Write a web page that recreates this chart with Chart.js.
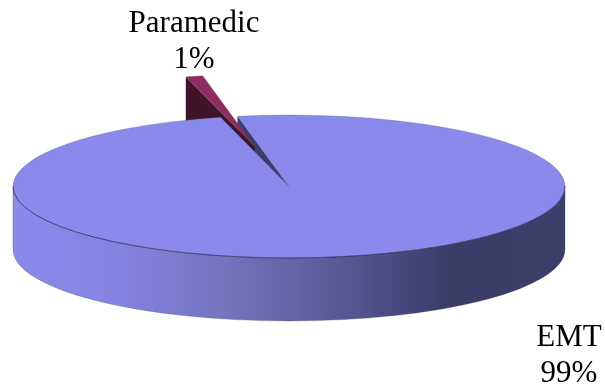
<!DOCTYPE html>
<html>
<head>
<meta charset="utf-8">
<title>Certification level</title>
<script src="https://cdn.jsdelivr.net/npm/chart.js@4/dist/chart.umd.js"></script>
<style>
  html, body { margin: 0; padding: 0; background: #ffffff; }
  canvas { display: block; }
</style>
</head>
<body>
<canvas id="pie" width="605" height="392"></canvas>
<script>
const categories = ['EMT', 'Paramedic'];
const shares = [99, 1];
const sliceColors = ['#8A8AEC', '#8E2C64'];
const sideColors = ['#3C3C6E', '#3F1429'];
const pullOut = [0, 160];

// Tilted-disc look: vertical squash of the circle and height of the disc's rim.
const tilt = 0.259;
const rimDepth = 63;
const labelFont = '31px "Liberation Serif", serif';
const labelLineGap = 36;
const labelBlocks = [
  { x: 569, y: 346 },
  { x: 194, y: 32 }
];

const discPlugin = {
  id: 'disc',
  beforeDatasetDraw(chart, args) {
    const ctx = chart.ctx;
    const arcs = args.meta.data;
    const emt = arcs[0];
    const medic = arcs[1];
    const cx = emt.x, cy = emt.y, r = emt.outerRadius, ry = r * tilt;

    // Outer rim of the large slice: shaded from the lit left side to the dark right side.
    const shade = ctx.createLinearGradient(cx - r, 0, cx + r, 0);
    shade.addColorStop(0, '#8A8AEC');
    shade.addColorStop(0.2, '#8383E0');
    shade.addColorStop(0.4, '#7272BC');
    shade.addColorStop(0.55, '#5F5F9E');
    shade.addColorStop(0.72, '#45457A');
    shade.addColorStop(0.8, '#3B3B68');
    shade.addColorStop(1, '#3D3D68');
    ctx.save();
    ctx.beginPath();
    ctx.ellipse(cx, cy, r, ry, 0, 0, Math.PI, false);
    ctx.lineTo(cx - r, cy + rimDepth);
    ctx.ellipse(cx, cy + rimDepth, r, ry, 0, Math.PI, 0, true);
    ctx.closePath();
    ctx.fillStyle = shade;
    ctx.fill();
    ctx.strokeStyle = 'rgba(70,70,90,0.45)';
    ctx.lineWidth = 0.7;
    ctx.stroke();

    // Cut face of the large slice, seen through the gap.
    const sx = cx + Math.cos(emt.startAngle) * r;
    const sy = cy + Math.sin(emt.startAngle) * ry;
    ctx.beginPath();
    ctx.moveTo(cx, cy);
    ctx.lineTo(sx, sy);
    ctx.lineTo(sx, sy + rimDepth);
    ctx.lineTo(cx, cy + rimDepth);
    ctx.closePath();
    ctx.fillStyle = sideColors[0];
    ctx.fill();

    // The pulled-out slice: cut face first, then its top surface.
    const mid = (medic.startAngle + medic.endAngle) / 2;
    const dx = Math.cos(mid) * pullOut[1];
    const dy = Math.sin(mid) * pullOut[1] * tilt;
    const tipX = cx + dx, tipY = cy + dy;
    const ox = tipX + Math.cos(medic.startAngle) * r;
    const oy = tipY + Math.sin(medic.startAngle) * ry;
    ctx.beginPath();
    ctx.moveTo(tipX, tipY);
    ctx.lineTo(ox, oy);
    ctx.lineTo(ox, oy + rimDepth);
    ctx.lineTo(tipX, tipY + rimDepth);
    ctx.closePath();
    ctx.fillStyle = sideColors[1];
    ctx.fill();

    ctx.save();
    ctx.translate(tipX, tipY);
    ctx.scale(1, tilt);
    ctx.translate(-cx, -cy);
    medic.draw(ctx);
    ctx.restore();

    // Top surface of the large slice goes last so it covers the faces behind it.
    ctx.save();
    ctx.translate(cx, cy);
    ctx.scale(1, tilt);
    ctx.translate(-cx, -cy);
    emt.draw(ctx);
    ctx.restore();

    // Crisp dark line where the top surface meets the rim at the front.
    ctx.beginPath();
    ctx.ellipse(cx, cy, r, ry, 0, 0, Math.PI, false);
    ctx.strokeStyle = 'rgba(35,35,70,0.75)';
    ctx.lineWidth = 0.8;
    ctx.stroke();
    ctx.restore();
    return false;
  },
  afterDraw(chart) {
    const ctx = chart.ctx;
    ctx.save();
    ctx.font = labelFont;
    ctx.fillStyle = '#000000';
    ctx.textAlign = 'center';
    ctx.textBaseline = 'alphabetic';
    categories.forEach((name, i) => {
      ctx.fillText(name, labelBlocks[i].x, labelBlocks[i].y);
      ctx.fillText(shares[i] + '%', labelBlocks[i].x, labelBlocks[i].y + labelLineGap);
    });
    ctx.restore();
  }
};

new Chart(document.getElementById('pie'), {
  type: 'pie',
  data: {
    labels: categories,
    datasets: [{
      data: shares,
      backgroundColor: sliceColors,
      borderColor: ['rgba(70,70,100,0.5)', 'rgba(120,90,110,0.4)'],
      borderWidth: [0.8, 0.8],
      clip: false
    }]
  },
  options: {
    responsive: false,
    animation: false,
    rotation: -10.75,
    radius: 276,
    layout: { padding: { left: 0, right: 27, top: 0, bottom: 19 } },
    plugins: {
      legend: { display: false },
      tooltip: { enabled: false }
    }
  },
  plugins: [discPlugin]
});
</script>
</body>
</html>
